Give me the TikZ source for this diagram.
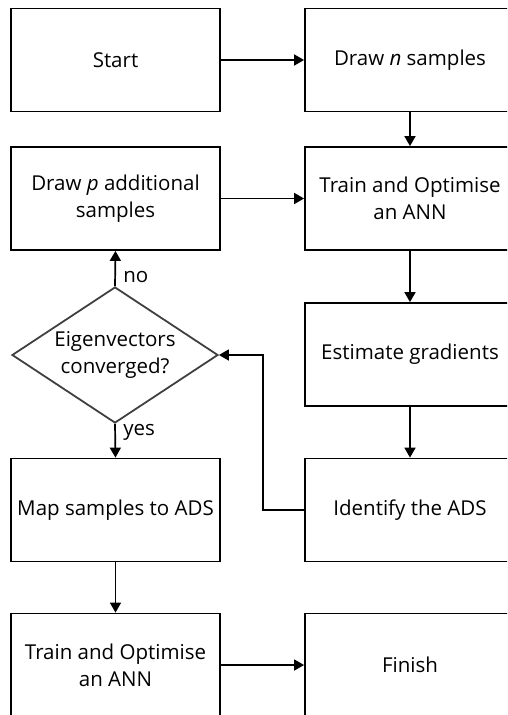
\documentclass[tikz,border=0pt]{standalone}
\usepackage{fontspec}
\setmainfont{Open Sans}
\usetikzlibrary{shapes.geometric,arrows.meta}
\tikzset{
    box/.style={draw, line width=1.8pt, minimum width=209pt, minimum height=103pt, align=center, inner sep=2pt},
    decision/.style={draw=black!75, line width=1.8pt, diamond, aspect=1.5, minimum width=206pt, minimum height=136pt, align=center, inner sep=0pt},
    arrow/.style={line width=1.7pt, -{Triangle[length=10pt,width=11pt]}},
    answer/.style={right, xshift=4pt}
}
\begin{document}
\begin{tikzpicture}[x=1pt, y=-1pt, font=\fontsize{20.5}{27}\selectfont]
            \clip (0,0) rectangle (507,715);
            \node[box] (start) at (115.5,60) {Start};
            \node[box, minimum width=210pt] (drawn) at (410,60) {Draw \textit{n} samples};
            \node[box] (drawp) at (115.5,198.5) {Draw \textit{p} additional\\samples};
            \node[box, minimum width=210pt] (trainA) at (410,198.5) {Train and Optimise\\an ANN};
            \node[box, minimum width=210pt] (estimate) at (410,354.5) {Estimate gradients};
            \node[box, minimum width=210pt] (identify) at (410,510) {Identify the ADS};
            \node[decision] (decide) at (115,355) {Eigenvectors\\converged?};
            \node[box] (mapads) at (115.5,510) {Map samples to ADS};
            \node[box] (trainB) at (115.5,665) {Train and Optimise\\an ANN};
            \node[box, minimum width=210pt] (finish) at (410,665) {Finish};
            \coordinate (bend) at (263,510);
            \draw[arrow] (start) -- (drawn);
            \draw[arrow] (drawn) -- (trainA);
            \draw[arrow] (drawp) -- (trainA);
            \draw[arrow] (trainA) -- (estimate);
            \draw[arrow] (estimate) -- (identify);
            \draw[arrow] (identify.west) -- (bend) |- (decide.east);
            \draw[arrow] (decide.north) -- node[pos=0.25, answer] {no} (drawp.south);
            \draw[arrow] (decide.south) -- node[pos=0.25, answer] {yes} (mapads.north);
            \draw[arrow] (mapads) -- (trainB);
            \draw[arrow] (trainB) -- (finish);
        \end{tikzpicture}
\end{document}
